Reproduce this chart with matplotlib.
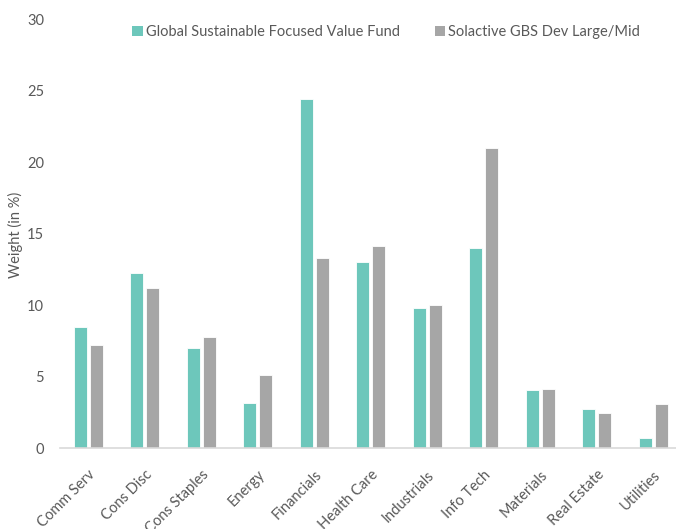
import matplotlib
matplotlib.use("Agg")
import matplotlib.pyplot as plt
import numpy as np
from matplotlib.patches import Patch

categories = ["Comm Serv", "Cons Disc", "Cons Staples", "Energy", "Financials",
              "Health Care", "Industrials", "Info Tech", "Materials", "Real Estate", "Utilities"]
fund = [8.5, 12.25, 7.0, 3.2, 24.45, 13.0, 9.85, 14.0, 4.05, 2.75, 0.7]
bench = [7.25, 11.25, 7.8, 5.1, 13.3, 14.15, 10.0, 21.0, 4.15, 2.5, 3.1]
series_names = ["Global Sustainable Focused Value Fund", "Solactive GBS Dev Large/Mid"]
yticks = [0, 5, 10, 15, 20, 25, 30]

TEAL = "#6DC7BB"
GRAY = "#A6A6A6"
TXT = "#595959"
FS = 10.5

plt.rcParams['font.family'] = ['Lato', 'DejaVu Sans']

W, H = 676, 529
fig = plt.figure(figsize=(W / 100, H / 100), dpi=100)
left_px, base_px, top_px = 60, 448.3, 19.5
spacing = 56.5
ax_w = len(categories) * spacing
ax = fig.add_axes([left_px / W, (H - base_px) / H, ax_w / W, (base_px - top_px) / H])

x = np.arange(len(categories))
bw = 0.225
gap = 0.058
ax.bar(x - (bw + gap) / 2, fund, width=bw, color=TEAL, edgecolor="white", linewidth=0.6, zorder=2)
ax.bar(x + (bw + gap) / 2, bench, width=bw, color=GRAY, edgecolor="white", linewidth=0.6, zorder=2)

ax.set_xlim(-0.5, len(categories) - 0.5)
ax.set_ylim(0, 30)
ax.set_yticks(yticks)
ax.set_yticklabels([str(v) for v in yticks], fontsize=FS, color=TXT)
ax.tick_params(axis='y', length=0, pad=11.5)
ax.set_xticks(x)
ax.set_xticklabels(categories, rotation=45, ha='right', va='top', rotation_mode='anchor',
                   fontsize=FS, color=TXT)
ax.tick_params(axis='x', length=0, pad=14)

for s in ["top", "right", "left"]:
    ax.spines[s].set_visible(False)
ax.spines["bottom"].set_color("#D9D9D9")
ax.spines["bottom"].set_linewidth(1.2)

fig.text(15 / W, (H - 235) / H, "Weight (in %)", rotation=90, ha='center', va='center',
         fontsize=FS, color=TXT)

handles = [Patch(facecolor=TEAL, edgecolor='none'), Patch(facecolor=GRAY, edgecolor='none')]
leg = fig.legend(handles, series_names, loc='center', bbox_to_anchor=(386 / W, (H - 32) / H),
                 ncol=2, frameon=False, fontsize=FS, handlelength=0.7, handleheight=0.7,
                 handletextpad=0.2, columnspacing=2.4, labelcolor=TXT)

fig.savefig("out.png", dpi=100)
